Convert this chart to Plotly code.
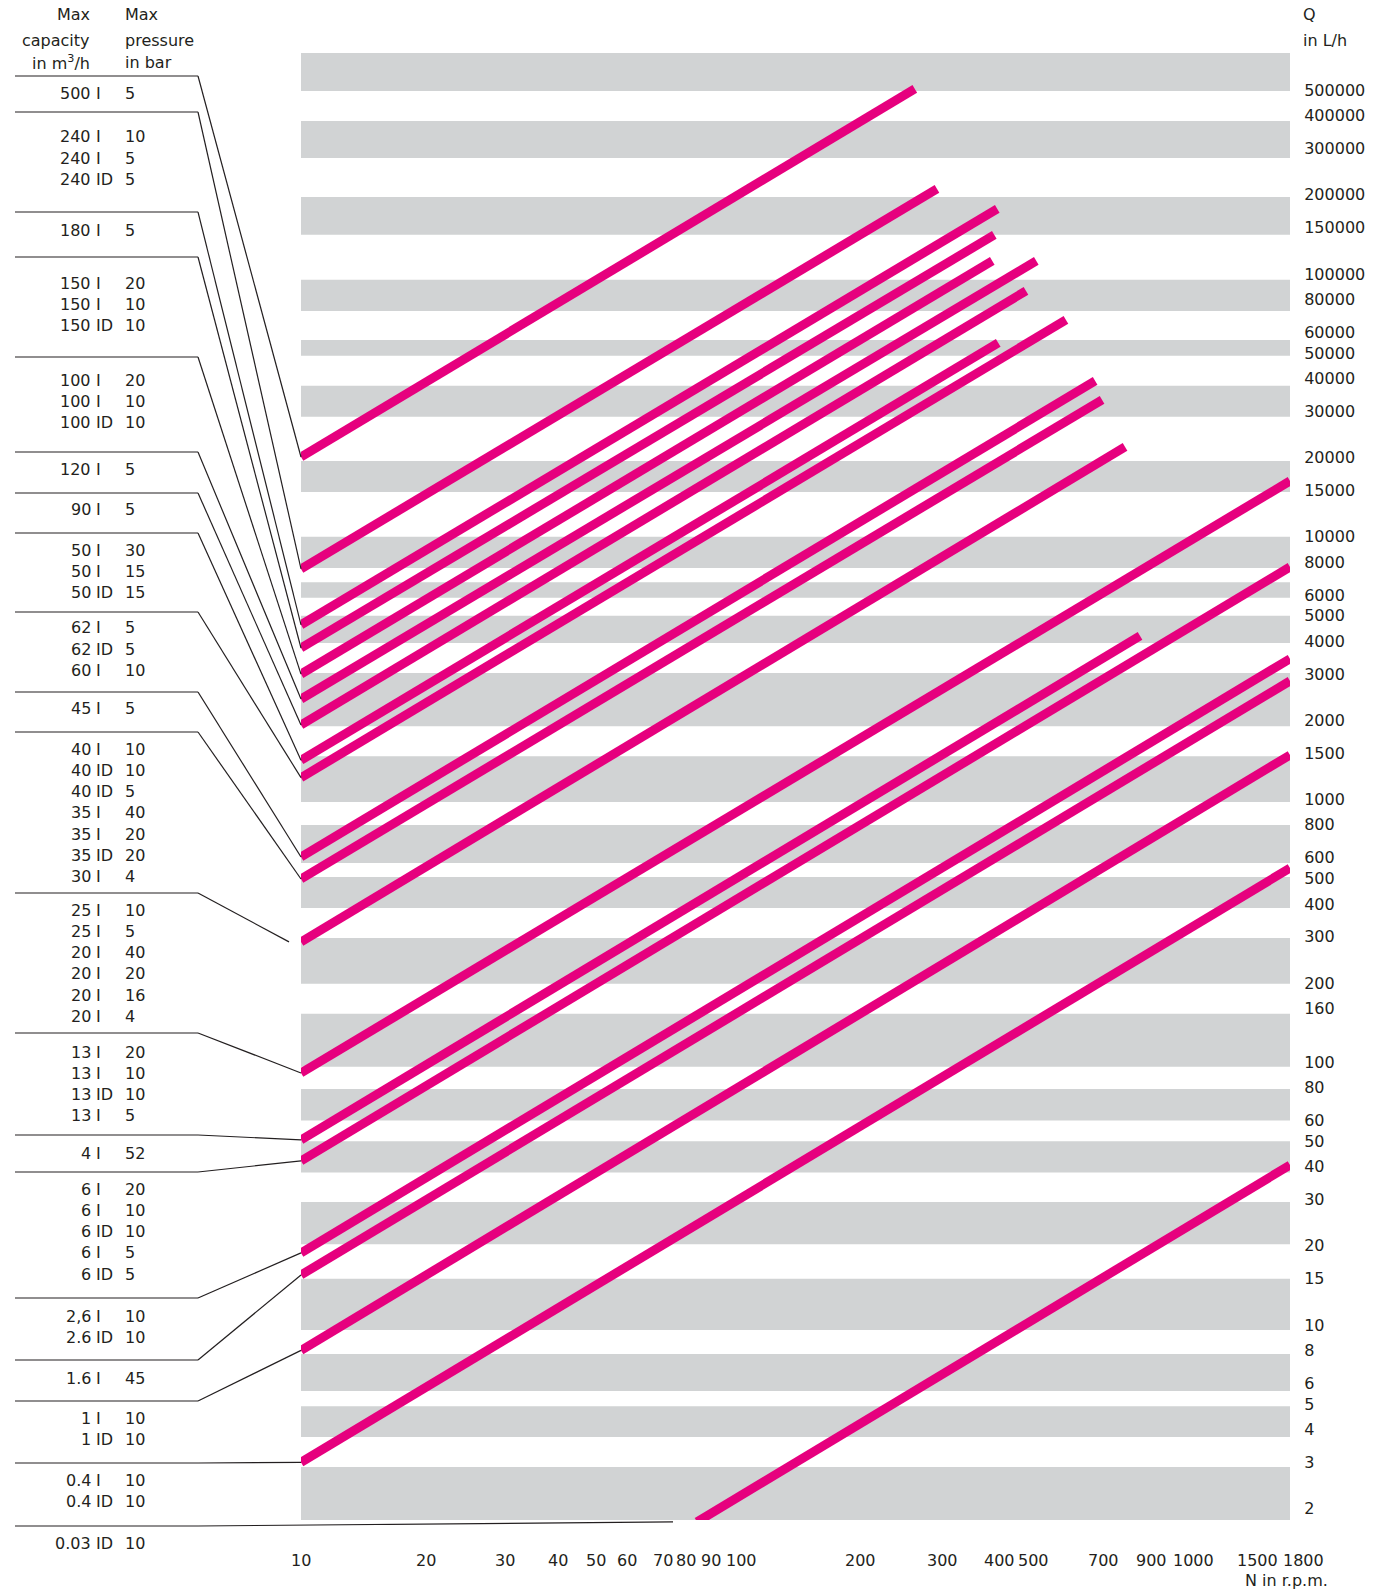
import math
import plotly.graph_objects as go

# ---------------- data ----------------
# each pump line: start point (speed rpm, flow L/h) and end point
speed_start = [10, 10, 10, 10, 10, 10, 10, 10, 10, 10, 10, 10, 10, 10, 10, 10, 10, 10, 10, 80]
flow_start = [20100, 7540, 4620, 3770, 3000, 2410, 1920, 1410, 1210, 604, 498, 287,
              91, 50.6, 42.1, 18.8, 15.5, 8.0, 3.0, 1.78]
speed_end = [251, 282, 387, 381, 377, 475, 450, 389, 555, 647, 671, 757,
             1800, 819, 1800, 1800, 1800, 1800, 1800, 1800]
flow_end = [506000, 210600, 176800, 140700, 112100, 112100, 86200, 54600, 66800, 39150, 33160, 21960,
            16300, 4190, 7670, 3430, 2825, 1476, 548, 40.6]

# grey horizontal bands (flow L/h)
band_top = [693000, 382000, 196000, 95000, 56000, 37500, 19400, 10000, 6700, 5000, 3030, 1460,
            800, 507, 297, 153, 79, 50, 29.4, 15, 7.75, 4.9, 2.88]
band_bottom = [497000, 276000, 141000, 72300, 48800, 28600, 14800, 7600, 5850, 3940, 1900, 978,
               573, 386, 199, 96, 60, 38, 20.3, 9.56, 5.6, 3.75, 1.81]

x_tick_vals = [10, 20, 30, 40, 50, 60, 70, 80, 90, 100, 200, 300, 400, 500, 700, 900, 1000, 1500, 1800]
y_tick_vals = [2, 3, 4, 5, 6, 8, 10, 15, 20, 30, 40, 50, 60, 80, 100, 160, 200, 300, 400, 500, 600, 800,
               1000, 1500, 2000, 3000, 4000, 5000, 6000, 8000, 10000, 15000, 20000, 30000, 40000,
               50000, 60000, 80000, 100000, 150000, 200000, 300000, 400000, 500000]

x_range = [10, 1800]
y_range = [1.81, 693000]

# model table: (max capacity, type, max pressure) per group
groups = [
    [("500", "I", "5")],
    [("240", "I", "10"), ("240", "I", "5"), ("240", "ID", "5")],
    [("180", "I", "5")],
    [("150", "I", "20"), ("150", "I", "10"), ("150", "ID", "10")],
    [("100", "I", "20"), ("100", "I", "10"), ("100", "ID", "10")],
    [("120", "I", "5")],
    [("90", "I", "5")],
    [("50", "I", "30"), ("50", "I", "15"), ("50", "ID", "15")],
    [("62", "I", "5"), ("62", "ID", "5"), ("60", "I", "10")],
    [("45", "I", "5")],
    [("40", "I", "10"), ("40", "ID", "10"), ("40", "ID", "5"), ("35", "I", "40"),
     ("35", "I", "20"), ("35", "ID", "20"), ("30", "I", "4")],
    [("25", "I", "10"), ("25", "I", "5"), ("20", "I", "40"), ("20", "I", "20"),
     ("20", "I", "16"), ("20", "I", "4")],
    [("13", "I", "20"), ("13", "I", "10"), ("13", "ID", "10"), ("13", "I", "5")],
    [("4", "I", "52")],
    [("6", "I", "20"), ("6", "I", "10"), ("6", "ID", "10"), ("6", "I", "5"), ("6", "ID", "5")],
    [("2,6", "I", "10"), ("2.6", "ID", "10")],
    [("1.6", "I", "45")],
    [("1", "I", "10"), ("1", "ID", "10")],
    [("0.4", "I", "10"), ("0.4", "ID", "10")],
    [("0.03", "ID", "10")],
]

# ---------------- layout constants (pixels) ----------------
W, H = 1379, 1589
PL, PR, PT, PB = 301, 1290, 53, 1520
INK = "#231F20"
PINK = "#E6007E"
GREY = "#D1D3D4"
FONT = "DejaVu Sans"
FS = 16

group_first_row_y = [94, 137, 230, 283, 380, 469, 509, 550, 628, 708, 749, 910, 1052, 1153, 1189,
                     1316, 1378, 1418, 1480, 1543]
ROW_STEP = 21.3
separator_y = [76, 112, 212, 257, 357, 452, 493, 533, 612, 692, 732, 893, 1033, 1135, 1172,
               1298, 1360, 1401, 1463, 1526]
leader_gap = [0] * 11 + [12] + [0] * 7 + [24]
# horizontal nudges of the speed labels (px), as typeset in the reference
x_label_shift = [0, -7, -5, -7, -12, -15, -9, -11, -8, 2, -11, -6, -4, -13, -7, -6, 15, 2, 13]
X_LABEL_Y = 1560

LX0, LX1 = math.log10(x_range[0]), math.log10(x_range[1])
LY0, LY1 = math.log10(y_range[0]), math.log10(y_range[1])


def to_px(n, q):
    fx = (math.log10(n) - LX0) / (LX1 - LX0)
    fy = (math.log10(q) - LY0) / (LY1 - LY0)
    return PL + fx * (PR - PL), PB - fy * (PB - PT)


def px(x):
    return x / W


def py(y):
    return 1 - y / H


fig = go.Figure()

# grey bands
bx, by = [], []
for t, b in zip(band_top, band_bottom):
    bx += [x_range[0], x_range[1], x_range[1], x_range[0], x_range[0], None]
    by += [b, b, t, t, b, None]
fig.add_trace(go.Scatter(x=bx, y=by, mode="lines", fill="toself", fillcolor=GREY,
                         line=dict(width=0, color=GREY), hoverinfo="skip"))

# pump lines
lx, ly = [], []
for n0, q0, n1, q1 in zip(speed_start, flow_start, speed_end, flow_end):
    lx += [n0, n1, None]
    ly += [q0, q1, None]
fig.add_trace(go.Scatter(x=lx, y=ly, mode="lines", line=dict(color=PINK, width=9),
                         hoverinfo="skip"))

shapes = []
annotations = []


def ann(text, x, y, anchor):
    annotations.append(dict(text=text, x=px(x), y=py(y), xref="paper", yref="paper",
                            xanchor=anchor, yanchor="middle", showarrow=False,
                            borderpad=0, borderwidth=0,
                            font=dict(family=FONT, size=FS, color=INK)))


# headers
ann("Max", 90, 15, "right")
ann("capacity", 90, 40, "right")
ann("in m<sup>3</sup>/h", 90, 63, "right")
ann("Max", 125, 15, "left")
ann("pressure", 125, 40, "left")
ann("in bar", 125, 63, "left")
ann("Q", 1303, 15, "left")
ann("in L/h", 1303, 40, "left")
ann("N in r.p.m.", 1328, 1580, "right")

# table rows
for g, y0 in zip(groups, group_first_row_y):
    for i, (cap, typ, pres) in enumerate(g):
        y = y0 + i * ROW_STEP
        ann(cap, 91, y, "right")
        ann(typ, 96, y, "left")
        ann(pres, 125, y, "left")

# speed tick labels, placed on the log x scale
for v, s in zip(x_tick_vals, x_label_shift):
    annotations.append(dict(text=str(v), x=math.log10(v), xref="x", y=py(X_LABEL_Y), yref="paper",
                            xanchor="center", yanchor="middle", xshift=s, showarrow=False,
                            borderpad=0, borderwidth=0,
                            font=dict(family=FONT, size=FS, color=INK)))

# separators and leader lines
for i, sy in enumerate(separator_y):
    ex, ey = to_px(speed_start[i], flow_start[i])
    ex -= leader_gap[i]
    shapes.append(dict(type="line", xref="paper", yref="paper", x0=px(15), y0=py(sy),
                       x1=px(198), y1=py(sy), line=dict(color=INK, width=1.2)))
    shapes.append(dict(type="line", xref="paper", yref="paper", x0=px(198), y0=py(sy),
                       x1=px(ex), y1=py(ey), line=dict(color=INK, width=1.2)))

fig.update_layout(
    width=W, height=H, autosize=False,
    margin=dict(l=0, r=0, t=0, b=0, autoexpand=False),
    paper_bgcolor="white", plot_bgcolor="white",
    showlegend=False,
    shapes=shapes, annotations=annotations,
    xaxis=dict(type="log", range=[LX0, LX1], domain=[PL / W, PR / W], automargin=False,
               showgrid=False, zeroline=False, showline=False, showticklabels=False,
               tickmode="array", tickvals=x_tick_vals, ticks=""),
    yaxis=dict(type="log", range=[LY0, LY1], domain=[1 - PB / H, 1 - PT / H], automargin=False,
               side="right", showgrid=False, zeroline=False, showline=False,
               tickmode="array", tickvals=y_tick_vals, ticktext=[str(v) for v in y_tick_vals],
               ticks="outside", ticklen=10, tickcolor="rgba(0,0,0,0)",
               tickfont=dict(family=FONT, size=FS, color=INK)),
)

fig.write_html("out.html", config={"displayModeBar": False},
               post_script="document.body.style.margin='0';")
